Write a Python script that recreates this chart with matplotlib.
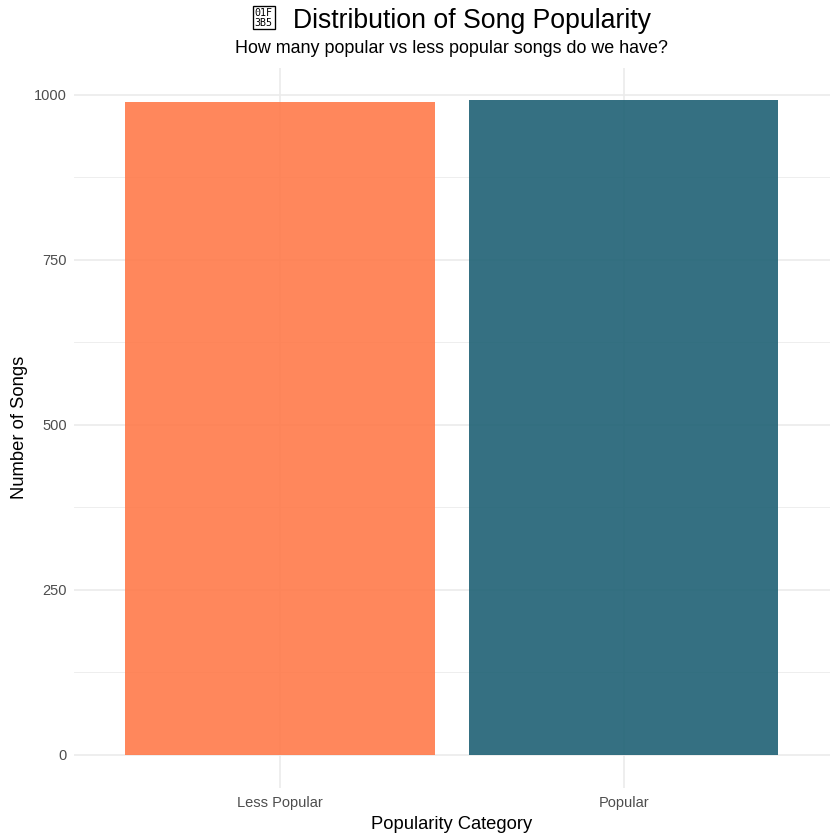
import matplotlib
matplotlib.use('Agg')
import matplotlib.pyplot as plt
from matplotlib.patches import Rectangle

categories = ['Less Popular', 'Popular']
song_counts = [989, 992]
bar_colors = ['#FF7A4A', '#1F6174']
y_ticks = [0, 250, 500, 750, 1000]
minor_ticks = [125, 375, 625, 875]

plt.rcParams['font.family'] = ['Liberation Sans', 'DejaVu Sans']

W = 840.0
fig = plt.figure(figsize=(7, 7), dpi=120)
# panel placed like the ggplot output
left, right, top, bottom = 73.5 / W, 830 / W, 67.5 / W, 787.7 / W
ax = fig.add_axes([left, 1 - bottom, right - left, bottom - top])

xs = list(range(1, len(categories) + 1))
ax.bar(xs, song_counts, width=0.9, color=bar_colors, alpha=0.9, zorder=2)

ymax = max(song_counts)
ax.set_xlim(0.4, len(categories) + 0.6)
ax.set_ylim(-0.05 * ymax, ymax * 1.05)
ax.set_xticks(xs)
ax.set_xticklabels(categories)
ax.set_yticks(y_ticks)
ax.set_yticks(minor_ticks, minor=True)

for s in ax.spines.values():
    s.set_visible(False)
ax.tick_params(axis='both', which='both', length=0, colors='#4D4D4D', labelsize=8.8)
ax.tick_params(axis='x', pad=5)
ax.tick_params(axis='y', pad=4)
ax.grid(True, which='major', color='#EBEBEB', linewidth=1.0, zorder=0)
ax.grid(True, which='minor', axis='y', color='#EBEBEB', linewidth=0.5, zorder=0)
ax.set_axisbelow(True)

ax.set_xlabel('Popularity Category', fontsize=11, color='black', labelpad=3.5)
ax.set_ylabel('Number of Songs', fontsize=11, color='black', labelpad=3.5)

# title: the music-note emoji has no installed glyph, so draw the same
# "missing glyph" box as the reference, then the text next to it
cx = (left + right) / 2 * W
box_w, gap = 22, 18
title = fig.text(0, 1 - 28 / W, 'Distribution of Song Popularity', ha='left', va='baseline',
                 fontsize=16, color='black')
fig.canvas.draw()
tw = title.get_window_extent().width
start = cx - (box_w + gap + tw) / 2
title.set_x((start + box_w + gap) / W)
fig.add_artist(Rectangle((start / W, 1 - 28.5 / W), box_w / W, 22 / W, transform=fig.transFigure,
                         facecolor='none', edgecolor='black', linewidth=0.8))
fig.text((start + box_w / 2) / W, 1 - 13 / W, '01F', ha='center', va='center', fontsize=6,
         family='DejaVu Sans Mono')
fig.text((start + box_w / 2) / W, 1 - 22.5 / W, '3B5', ha='center', va='center', fontsize=6,
         family='DejaVu Sans Mono')

fig.text(cx / W, 1 - 53 / W, 'How many popular vs less popular songs do we have?', ha='center',
         va='baseline', fontsize=10.75, color='black')

fig.savefig('out.png', dpi=120, facecolor='white')
